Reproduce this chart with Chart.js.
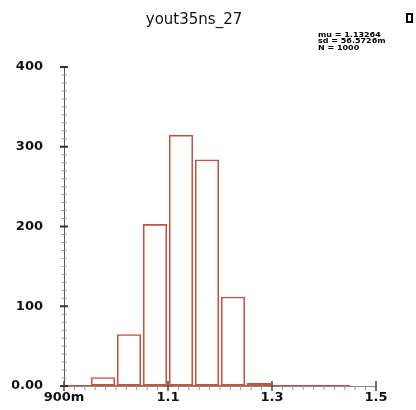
<!DOCTYPE html>
<html>
<head>
<meta charset="utf-8">
<script src="https://cdn.jsdelivr.net/npm/chart.js@4/dist/chart.umd.min.js"></script>
<style>
html,body{margin:0;padding:0;background:#fff;}
#wrap{width:416px;height:410px;}
</style>
</head>
<body>
<div id="wrap"><canvas id="c" width="416" height="410"></canvas></div>
<script>
const chartTitle = 'yout35ns_27';
const binCenters = [0.925, 0.975, 1.025, 1.075, 1.125, 1.175, 1.225, 1.275, 1.325, 1.375, 1.425];
const binCounts  = [0, 11, 65, 203, 315, 284, 112, 4, 0, 0, 0];
const histRange  = [0.9, 1.45];
const xTickLabels = ['900m', '1.1', '1.3', '1.5'];
const yTickLabels = ['0.00', '100', '200', '300', '400'];
const statLines = ['mu = 1.13264', 'sd = 56.5726m', 'N = 1000'];

const RED = 'rgb(196,84,64)';
const LABEL_FONT = {family: "'DejaVu Sans'", size: 13, weight: 'bold'};
const binWidth = binCenters[1] - binCenters[0];

const tickMarks = {
  id: 'tickMarks',
  afterDraw(chart) {
    const ctx = chart.ctx;
    const xs = chart.scales.x, ys = chart.scales.y;
    ctx.save();
    const ax = xs.left;
    ys.ticks.forEach(t => {
      const py = ys.getPixelForValue(t.value);
      const major = Math.round(t.value) % 100 === 0;
      ctx.beginPath();
      ctx.strokeStyle = major ? '#333' : '#999';
      ctx.lineWidth = major ? 2 : 1;
      const len = major ? 4 : 2.5;
      ctx.moveTo(ax - len, py); ctx.lineTo(ax + len, py);
      ctx.stroke();
    });
    const ay = ys.bottom;
    xs.ticks.forEach((t, i) => {
      const px = xs.getPixelForValue(t.value);
      const major = i % 10 === 0;
      ctx.beginPath();
      ctx.strokeStyle = major ? '#444' : '#999';
      ctx.lineWidth = major ? 1.5 : 1;
      if (major) { ctx.moveTo(px, ay - 5); ctx.lineTo(px, ay + 5); }
      else { ctx.moveTo(px, ay); ctx.lineTo(px, ay + 4); }
      ctx.stroke();
    });
    ctx.fillStyle = '#000';
    ctx.font = "bold 8px 'DejaVu Sans'";
    ctx.textBaseline = 'middle';
    ctx.textAlign = 'left';
    statLines.forEach((s, i) => {
      ctx.save();
      ctx.translate(318, 35.5 + i * 6.2);
      ctx.scale(1, 0.78);
      ctx.fillText(s, 0, 0);
      ctx.restore();
    });
    ctx.strokeStyle = '#000';
    ctx.lineWidth = 2;
    ctx.strokeRect(407, 14, 5, 8);
    ctx.restore();
  }
};

new Chart(document.getElementById('c'), {
  data: {
    datasets: [
      {
        type: 'line',
        xAxisID: 'x',
        data: histRange.map(v => ({x: v, y: 0})),
        borderColor: RED,
        borderWidth: 2,
        pointRadius: 0,
        order: 0
      },
      {
        type: 'bar',
        xAxisID: 'xb',
        data: binCenters.map((c, i) => ({x: c, y: binCounts[i]})),
        backgroundColor: 'rgba(255,255,255,0)',
        borderColor: RED,
        borderWidth: 1.6,
        borderSkipped: false,
        borderDash: [2, 1],
        barPercentage: 0.93,
        categoryPercentage: 1,
        grouped: false,
        order: 1
      }
    ]
  },
  options: {
    responsive: false,
    animation: false,
    devicePixelRatio: 1,
    layout: {padding: {left: 12, right: 40, top: 0, bottom: 0}},
    plugins: {
      legend: {display: false},
      tooltip: {enabled: false},
      title: {
        display: true,
        text: chartTitle,
        color: '#111',
        font: {family: "'DejaVu Sans'", size: 15, weight: 'normal'},
        padding: {top: 11, bottom: 38}
      }
    },
    scales: {
      x: {
        type: 'linear',
        min: 0.9,
        max: 1.5,
        offset: false,
        grid: {display: true, drawOnChartArea: false, drawTicks: false},
        border: {display: true, color: '#888', width: 1},
        afterFit: s => { s.height = 24; },
        ticks: {
          stepSize: 0.02,
          autoSkip: false,
          maxRotation: 0,
          padding: 4,
          color: '#111',
          font: LABEL_FONT,
          callback: (v, i) => (i % 10 === 0 ? xTickLabels[i / 10] : '')
        }
      },
      xb: {
        type: 'linear',
        display: false,
        min: 0.9,
        max: 1.5,
        offset: false,
        ticks: {stepSize: binWidth}
      },
      y: {
        type: 'linear',
        min: 0,
        max: 400,
        grid: {display: true, drawOnChartArea: false, drawTicks: true, tickLength: 19, tickColor: 'rgba(0,0,0,0)'},
        border: {display: true, color: '#555', width: 1},
        afterFit: s => { s.width = 52; },
        ticks: {
          stepSize: 10,
          autoSkip: false,
          padding: 2,
          color: '#111',
          font: LABEL_FONT,
          callback: v => (Math.round(v) % 100 === 0 ? yTickLabels[Math.round(v) / 100] : '')
        }
      }
    }
  },
  plugins: [tickMarks]
});
</script>
</body>
</html>
